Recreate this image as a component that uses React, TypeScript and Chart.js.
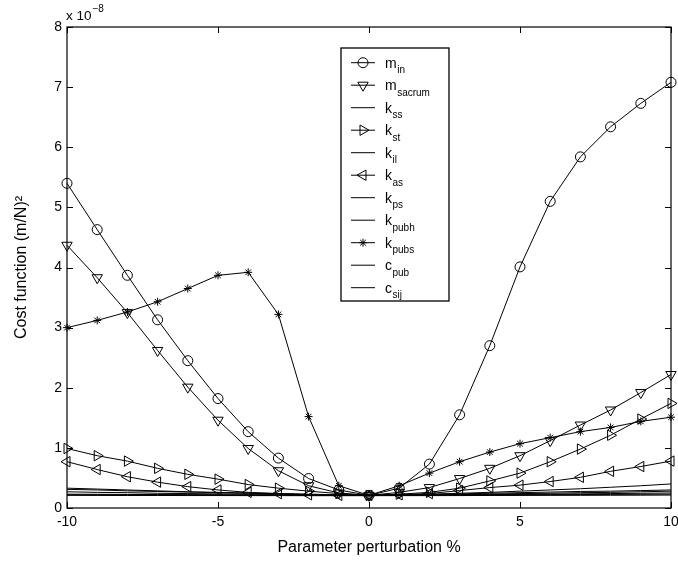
import React, { useEffect, useRef } from 'react';
import { Chart, registerables } from 'chart.js';
import { drawPoint } from 'chart.js/helpers';

Chart.register(...registerables);

// ---- data (values in units of 1e-8 (m/N)^2) ----
const xValues = [-10, -9, -8, -7, -6, -5, -4, -3, -2, -1, 0, 1, 2, 3, 4, 5, 6, 7, 8, 9, 10];
const xTicks = [-10, -5, 0, 5, 10];
const yTicks = [0, 1, 2, 3, 4, 5, 6, 7, 8];

const mIn = [5.40, 4.63, 3.87, 3.13, 2.45, 1.82, 1.27, 0.83, 0.49, 0.30, 0.21, 0.33, 0.73, 1.55, 2.70, 4.01, 5.10, 5.84, 6.34, 6.73, 7.08];
const mSacrum = [4.37, 3.83, 3.25, 2.62, 2.01, 1.46, 0.99, 0.62, 0.37, 0.25, 0.21, 0.26, 0.34, 0.49, 0.66, 0.87, 1.12, 1.38, 1.63, 1.92, 2.22];
const kSs = [0.33, 0.315, 0.30, 0.285, 0.27, 0.26, 0.25, 0.24, 0.23, 0.22, 0.21, 0.22, 0.23, 0.245, 0.26, 0.28, 0.30, 0.32, 0.345, 0.37, 0.40];
const kSt = [0.99, 0.87, 0.78, 0.66, 0.56, 0.48, 0.39, 0.33, 0.28, 0.24, 0.21, 0.23, 0.26, 0.33, 0.45, 0.58, 0.77, 0.98, 1.21, 1.48, 1.74];
const kIl = [0.31, 0.30, 0.285, 0.275, 0.265, 0.255, 0.245, 0.235, 0.225, 0.215, 0.21, 0.215, 0.225, 0.235, 0.245, 0.255, 0.265, 0.275, 0.28, 0.29, 0.30];
const kAs = [0.77, 0.64, 0.52, 0.43, 0.355, 0.30, 0.26, 0.24, 0.22, 0.21, 0.21, 0.22, 0.24, 0.29, 0.34, 0.38, 0.44, 0.51, 0.61, 0.69, 0.78];
const kPs = [0.27, 0.26, 0.255, 0.245, 0.24, 0.235, 0.23, 0.225, 0.22, 0.215, 0.21, 0.215, 0.22, 0.225, 0.23, 0.24, 0.245, 0.255, 0.26, 0.27, 0.28];
const kPubh = [0.23, 0.228, 0.226, 0.224, 0.222, 0.22, 0.218, 0.216, 0.214, 0.212, 0.21, 0.213, 0.216, 0.219, 0.222, 0.226, 0.23, 0.235, 0.24, 0.245, 0.25];
const kPubs = [3.00, 3.12, 3.26, 3.43, 3.65, 3.87, 3.92, 3.22, 1.52, 0.37, 0.21, 0.37, 0.58, 0.77, 0.93, 1.07, 1.17, 1.27, 1.34, 1.44, 1.51];
const cPub = [0.22, 0.219, 0.218, 0.217, 0.216, 0.215, 0.214, 0.213, 0.212, 0.211, 0.21, 0.212, 0.214, 0.216, 0.218, 0.22, 0.222, 0.224, 0.226, 0.228, 0.23];
const cSij = [0.21, 0.209, 0.208, 0.208, 0.207, 0.207, 0.206, 0.206, 0.205, 0.205, 0.205, 0.206, 0.206, 0.207, 0.208, 0.209, 0.21, 0.211, 0.212, 0.213, 0.215];

const seriesValues = [mIn, mSacrum, kSs, kSt, kIl, kAs, kPs, kPubh, kPubs, cPub, cSij];
const legendMain = ['m', 'm', 'k', 'k', 'k', 'k', 'k', 'k', 'k', 'c', 'c'];
const legendSub = ['in', 'sacrum', 'ss', 'st', 'il', 'as', 'ps', 'pubh', 'pubs', 'pub', 'sij'];
const markerStyles = ['circle', 'triangle', null, 'triangle', null, 'triangle', null, null, 'star', null, null];
const markerRotations = [0, 180, 0, 90, 0, 270, 0, 0, 0, 0, 0];

const xTitle = 'Parameter perturbation %';
const yTitle = 'Cost function (m/N)²';
const multBase = 'x 10';
const multExp = '−8';

const FONT = '"Liberation Sans", Arial, Helvetica, sans-serif';

function markerRadius(style: string | null) {
  if (!style) return 0;
  if (style === 'star') return 4;
  if (style === 'triangle') return 6;
  return 5;
}

const matlabPlugin = {
  id: 'matlabDecor',
  afterDatasetsDraw(chart: any) {
    const { ctx, chartArea } = chart;
    const { left, right, top, bottom } = chartArea;
    const xs = chart.scales.x;
    const ys = chart.scales.y;
    ctx.save();
    ctx.strokeStyle = '#000';
    ctx.lineWidth = 1.2;
    ctx.strokeRect(left, top, right - left, bottom - top);
    ctx.lineWidth = 1;
    const tl = 6;
    ctx.beginPath();
    for (const v of xTicks) {
      const px = Math.round(xs.getPixelForValue(v)) + 0.5;
      ctx.moveTo(px, bottom); ctx.lineTo(px, bottom - tl);
      ctx.moveTo(px, top); ctx.lineTo(px, top + tl);
    }
    for (const v of yTicks) {
      const py = Math.round(ys.getPixelForValue(v)) + 0.5;
      ctx.moveTo(left, py); ctx.lineTo(left + tl, py);
      ctx.moveTo(right, py); ctx.lineTo(right - tl, py);
    }
    ctx.stroke();
    // multiplier label
    ctx.fillStyle = '#000';
    ctx.textBaseline = 'alphabetic';
    ctx.textAlign = 'left';
    ctx.font = `13.5px ${FONT}`;
    ctx.fillText(multBase, left - 1, top - 7);
    const w = ctx.measureText(multBase).width;
    ctx.font = `10px ${FONT}`;
    ctx.fillText(multExp, left - 1 + w + 1, top - 15);
    ctx.restore();
  },
  afterDraw(chart: any) {
    const { ctx, chartArea } = chart;
    const bx = chartArea.left + 274;
    const by = chartArea.top + 21;
    const bw = 108;
    const bh = 253;
    ctx.save();
    ctx.fillStyle = '#fff';
    ctx.fillRect(bx, by, bw, bh);
    ctx.strokeStyle = '#000';
    ctx.lineWidth = 1.3;
    ctx.strokeRect(bx, by, bw, bh);
    const n = legendSub.length;
    for (let i = 0; i < n; i++) {
      const y = by + 14.7 + i * 22.5;
      ctx.strokeStyle = '#000';
      ctx.lineWidth = 1;
      ctx.beginPath();
      ctx.moveTo(bx + 10, y);
      ctx.lineTo(bx + 34, y);
      ctx.stroke();
      if (markerStyles[i]) {
        ctx.fillStyle = 'rgba(0,0,0,0)';
        drawPoint(ctx, {
          pointStyle: markerStyles[i],
          rotation: markerRotations[i],
          radius: markerRadius(markerStyles[i]),
          borderWidth: 1,
        } as any, bx + 22, y);
      }
      ctx.fillStyle = '#000';
      ctx.textAlign = 'left';
      ctx.textBaseline = 'alphabetic';
      ctx.font = `14px ${FONT}`;
      ctx.fillText(legendMain[i], bx + 44, y + 5);
      const mw = ctx.measureText(legendMain[i]).width;
      ctx.font = `10px ${FONT}`;
      ctx.fillText(legendSub[i], bx + 44 + mw + 0.5, y + 10.5);
    }
    ctx.restore();
  },
};

export default function App() {
  const canvasRef = useRef<HTMLCanvasElement | null>(null);

  useEffect(() => {
    document.body.style.margin = '0';
    const canvas = canvasRef.current;
    if (!canvas) return;
    const datasets = seriesValues.map((vals, i) => ({
      label: legendMain[i] + legendSub[i],
      data: xValues.map((x, j) => ({ x, y: vals[j] })),
      borderColor: '#000',
      backgroundColor: 'rgba(0,0,0,0)',
      borderWidth: 1,
      pointStyle: markerStyles[i] || 'circle',
      pointRotation: markerRotations[i],
      pointRadius: markerRadius(markerStyles[i]),
      pointBorderColor: '#000',
      pointBackgroundColor: 'rgba(0,0,0,0)',
      pointBorderWidth: 1,
      tension: 0,
      clip: false as any,
    }));
    const chart = new Chart(canvas, {
      type: 'line',
      data: { datasets },
      plugins: [matlabPlugin],
      options: {
        responsive: false,
        animation: false,
        devicePixelRatio: 1,
        layout: { padding: { left: 0, right: 6, top: 27, bottom: 0 } },
        plugins: { legend: { display: false }, tooltip: { enabled: false } },
        scales: {
          x: {
            type: 'linear',
            min: -10,
            max: 10,
            afterBuildTicks: (s: any) => { s.ticks = xTicks.map((v) => ({ value: v })); },
            afterFit: (s: any) => { s.height = 57; s.paddingLeft = 0; s.paddingRight = 0; },
            grid: { display: false, drawTicks: false, tickLength: 0 },
            border: { display: false },
            ticks: { color: '#000', padding: 6, maxRotation: 0, autoSkip: false, font: { family: FONT, size: 14 } },
            title: { display: true, text: xTitle, color: '#000', font: { family: FONT, size: 16 }, padding: { top: 0, bottom: 8 } },
          },
          y: {
            type: 'linear',
            min: 0,
            max: 8,
            afterBuildTicks: (s: any) => { s.ticks = yTicks.map((v) => ({ value: v })); },
            afterFit: (s: any) => { s.width = 67; s.paddingTop = 0; s.paddingBottom = 0; },
            grid: { display: false, drawTicks: false, tickLength: 0 },
            border: { display: false },
            ticks: { color: '#000', padding: 5, autoSkip: false, font: { family: FONT, size: 14 } },
            title: { display: true, text: yTitle, color: '#000', font: { family: FONT, size: 16 }, padding: { top: 12, bottom: 0 } },
          },
        },
      },
    } as any);
    return () => chart.destroy();
  }, []);

  return (
    <div style={{ width: 678, height: 565, background: '#fff' }}>
      <canvas ref={canvasRef} width={678} height={565} style={{ display: 'block' }} />
    </div>
  );
}
